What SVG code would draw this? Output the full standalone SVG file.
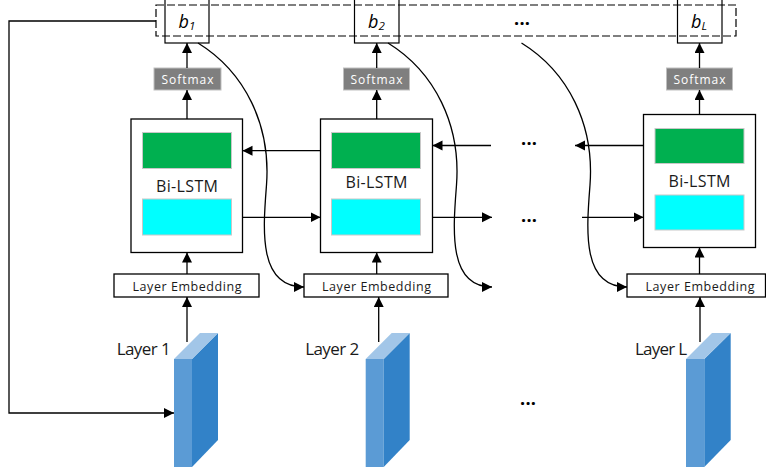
<svg xmlns="http://www.w3.org/2000/svg" width="766" height="471" viewBox="0 0 766 471">
<defs>
<marker id="ah" markerUnits="userSpaceOnUse" markerWidth="12" markerHeight="12" refX="10" refY="5" orient="auto">
<path d="M0,0 L10,5 L0,10 Z" fill="#000"/>
</marker>
<style>
.ln{fill:none;stroke:#000;stroke-width:1.3}
.ar{fill:none;stroke:#000;stroke-width:1.3;marker-end:url(#ah)}
.box{fill:#fff;stroke:#000;stroke-width:1.3}
.bbox{fill:none;stroke:#000;stroke-width:1.2}
.sm{fill:#7f7f7f;stroke:#bfbfbf;stroke-width:1}
.smt{font-family:"Open Sans",sans-serif;font-size:12px;fill:#fff;text-anchor:middle}
.gr{fill:#00b050;stroke:#c8c8c8;stroke-width:1}
.cy{fill:#00ffff;stroke:#c8c8c8;stroke-width:1}
.t{font-family:"Open Sans",sans-serif;fill:#1a1a1a;text-anchor:middle}
.bl{font-family:"Open Sans",sans-serif;font-style:italic;font-size:18px;fill:#000}
.dots{font-family:"Open Sans",sans-serif;font-weight:bold;font-size:18px;fill:#000;text-anchor:middle}
.fr{fill:#5b9bd5}.sd{fill:#3282c8}.tp{fill:#a2c6e8}
</style>
</defs>

<rect x="156" y="5" width="580" height="31" fill="none" stroke="#000" stroke-width="1.2" stroke-dasharray="8,3"/>

<g id="b1"><rect class="bbox" x="165" y="-1" width="44" height="44"/><text class="bl" x="178.5" y="27.5">b<tspan font-size="11.5" dy="2.5">1</tspan></text></g>
<g id="b2"><rect class="bbox" x="354.5" y="-1" width="44.5" height="44"/><text class="bl" x="368" y="27.5">b<tspan font-size="11.5" dy="2.5">2</tspan></text></g>
<g id="bL"><rect class="bbox" x="677.5" y="-1" width="44.5" height="44"/><text class="bl" x="691" y="27.5">b<tspan font-size="11.5" dy="2.5">L</tspan></text></g>
<g id="dots-top"><text class="dots" x="522" y="25" textLength="16">...</text></g>

<g id="softmax1"><rect class="sm" x="154" y="68" width="67" height="22"/><text class="smt" x="187.5" y="84" textLength="52">Softmax</text></g>
<g id="softmax2"><rect class="sm" x="343.5" y="68" width="66" height="22"/><text class="smt" x="376.5" y="84" textLength="52">Softmax</text></g>
<g id="softmaxL"><rect class="sm" x="666.5" y="68" width="66" height="22"/><text class="smt" x="699.5" y="84" textLength="52">Softmax</text></g>

<g id="bilstm1"><rect class="box" x="131" y="119" width="111.5" height="133.5"/><rect class="gr" x="142.5" y="132.5" width="89" height="36"/><rect class="cy" x="142.5" y="199" width="89" height="36"/><text class="t" x="187" y="191.5" font-size="16" textLength="62">Bi-LSTM</text></g>
<g id="bilstm2"><rect class="box" x="320.5" y="119" width="112" height="133.5"/><rect class="gr" x="331.5" y="132.5" width="89" height="36"/><rect class="cy" x="331.5" y="199" width="89" height="36"/><text class="t" x="376.5" y="187.5" font-size="16" textLength="62">Bi-LSTM</text></g>
<g id="bilstmL"><rect class="box" x="643.5" y="114.5" width="112" height="133"/><rect class="gr" x="655" y="128.5" width="89" height="35"/><rect class="cy" x="655" y="195" width="89" height="35"/><text class="t" x="699.5" y="186.7" font-size="16" textLength="62">Bi-LSTM</text></g>
<g id="dots-mid"><text class="dots" x="529" y="145" textLength="16">...</text><text class="dots" x="529" y="222" textLength="16">...</text></g>

<g id="emb1"><rect class="box" x="114" y="274" width="145" height="23"/><text class="t" x="187" y="291" font-size="12.5" textLength="109">Layer Embedding</text></g>
<g id="emb2"><rect class="box" x="304" y="274" width="144" height="23"/><text class="t" x="376.5" y="291" font-size="12.5" textLength="109">Layer Embedding</text></g>
<g id="embL"><rect class="box" x="627" y="274" width="138.5" height="23"/><text class="t" x="700" y="291" font-size="12.5" textLength="109">Layer Embedding</text></g>

<g id="layer1"><polygon class="fr" points="174,359 192,359 192,467 174,467"/><polygon class="sd" points="192,359 218,333 218,440 192,467"/><polygon class="tp" points="174,359 200,333 218,333 192,359"/><text class="t" x="143.7" y="355" font-size="17" textLength="54">Layer 1</text></g>
<g id="layer2"><polygon class="fr" points="365.7,359 383.7,359 383.7,467 365.7,467"/><polygon class="sd" points="383.7,359 409.7,333 409.7,440 383.7,467"/><polygon class="tp" points="365.7,359 391.7,333 409.7,333 383.7,359"/><text class="t" x="332.2" y="355" font-size="17" textLength="54">Layer 2</text></g>
<g id="layerL"><polygon class="fr" points="686,359 704.3,359 704.3,467 686,467"/><polygon class="sd" points="704.3,359 730.7,333 730.7,440 704.3,467"/><polygon class="tp" points="686,359 712,333 730.7,333 704.3,359"/><text class="t" x="661" y="355" font-size="17" textLength="52">Layer L</text></g>
<g id="dots-bot"><text class="dots" x="528" y="405" textLength="16">...</text></g>

<g id="connectors">
<line class="ar" x1="187" y1="68" x2="187" y2="43"/>
<line class="ar" x1="376.7" y1="68" x2="376.7" y2="43"/>
<line class="ar" x1="699.5" y1="68" x2="699.5" y2="43"/>
<line class="ar" x1="187" y1="119" x2="187" y2="90"/>
<line class="ar" x1="376.7" y1="119" x2="376.7" y2="90"/>
<line class="ar" x1="699.5" y1="114.5" x2="699.5" y2="90"/>
<line class="ar" x1="187" y1="274" x2="187" y2="252.5"/>
<line class="ar" x1="376.7" y1="274" x2="376.7" y2="252.5"/>
<line class="ar" x1="699.5" y1="274" x2="699.5" y2="247.5"/>
<line class="ar" x1="187" y1="342" x2="187" y2="297"/>
<line class="ar" x1="378.7" y1="342" x2="378.7" y2="297"/>
<line class="ar" x1="700" y1="342" x2="700" y2="297"/>
<line class="ar" x1="320.5" y1="150.7" x2="242.5" y2="150.7"/>
<line class="ar" x1="242.5" y1="217.3" x2="320.5" y2="217.3"/>
<line class="ar" x1="491" y1="145.5" x2="432.5" y2="145.5"/>
<line class="ar" x1="432.5" y1="217.3" x2="492" y2="217.3"/>
<line class="ar" x1="643.5" y1="145.5" x2="575" y2="145.5"/>
<line class="ar" x1="582" y1="217.3" x2="643.5" y2="217.3"/>
<polyline class="ar" points="156,21 9,21 9,413 174,413"/>
<path class="ar" d="M198,43 C245,72 271,125 266.5,185 C263,230 258,287 304,287"/>
<path class="ar" d="M388,43 C435,72 461,125 456.5,185 C453,230 448,287 492,287"/>
<path class="ar" d="M521.5,43 C568.5,72 594.5,125 590,185 C586.5,230 581.5,287 627,287"/>
</g>
</svg>
